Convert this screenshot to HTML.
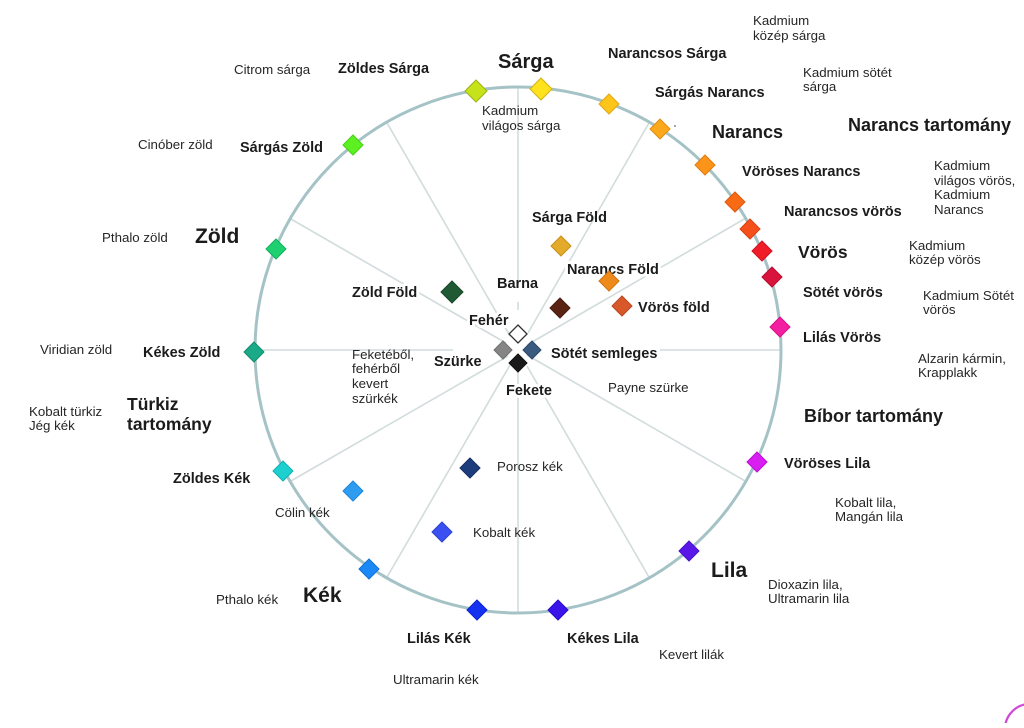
<!DOCTYPE html>
<html>
<head>
<meta charset="utf-8">
<style>
html,body{margin:0;padding:0;background:#fff;}
body{width:1024px;height:723px;overflow:hidden;}
svg text{font-family:"Liberation Sans",Arial,sans-serif;fill:#1b1b1b;}
.b{font-weight:bold;font-size:14.5px;}
.r{font-size:13.3px;fill:#262626;}
.big{font-weight:bold;font-size:21px;}
.rng{font-weight:bold;font-size:18px;}
.h{stroke:#fff;stroke-width:6px;stroke-linejoin:round;paint-order:stroke;}
.sp{stroke:#d2dcdd;stroke-width:1.6;fill:none;}
</style>
</head>
<body>
<svg width="1024" height="723" viewBox="0 0 1024 723" xmlns="http://www.w3.org/2000/svg">
<rect width="1024" height="723" fill="#fff"/>

<!-- spokes -->
<g class="sp">
<line x1="518" y1="88" x2="518" y2="280"/>
<line x1="649.5" y1="122" x2="528" y2="333"/>
<line x1="746" y1="218" x2="527" y2="345"/>
<line x1="660" y1="350" x2="781" y2="350"/>
<line x1="746" y1="481.5" x2="527" y2="355"/>
<line x1="649.5" y1="578" x2="527" y2="366"/>
<line x1="518" y1="613" x2="518" y2="372"/>
<line x1="386.5" y1="578" x2="510" y2="365"/>
<line x1="290" y1="481.5" x2="508" y2="356"/>
<line x1="255" y1="350" x2="453" y2="350"/>
<line x1="290" y1="218.5" x2="506" y2="343"/>
<line x1="386.5" y1="122" x2="510" y2="336"/>
<line x1="518" y1="302" x2="518" y2="310"/>
</g>

<!-- main circle -->
<circle cx="518" cy="350" r="263" fill="none" stroke="#a5c3c6" stroke-width="3"/>

<!-- small dot -->
<circle cx="675" cy="126" r="1" fill="#888"/>

<!-- bottom-right purple arc -->
<circle cx="1030" cy="729" r="25" fill="none" stroke="#cf48d6" stroke-width="2.2"/>

<!-- diamonds on circle -->
<g stroke-width="1">
<polygon points="476,80 487,91 476,102 465,91" fill="#c5e21a" stroke="#9fb212"/>
<polygon points="541,78 552,89 541,100 530,89" fill="#fde21c" stroke="#d4b012"/>
<polygon points="609,94 619,104 609,114 599,104" fill="#fdc41a" stroke="#e0a812"/>
<polygon points="660,119 670,129 660,139 650,129" fill="#fca81c" stroke="#e09012"/>
<polygon points="705,155 715,165 705,175 695,165" fill="#fb9418" stroke="#e07c10"/>
<polygon points="735,192 745,202 735,212 725,202" fill="#f86a14" stroke="#de5810"/>
<polygon points="750,219 760,229 750,239 740,229" fill="#f5501a" stroke="#d84012"/>
<polygon points="762,241 772,251 762,261 752,251" fill="#f01c28" stroke="#d0101c"/>
<polygon points="772,267 782,277 772,287 762,277" fill="#d8143c" stroke="#b80c30"/>
<polygon points="780,317 790,327 780,337 770,327" fill="#f41ea0" stroke="#d81088"/>
<polygon points="757,452 767,462 757,472 747,462" fill="#d81ef0" stroke="#bc10d4"/>
<polygon points="689,541 699,551 689,561 679,551" fill="#5a18e8" stroke="#4810cc"/>
<polygon points="558,600 568,610 558,620 548,610" fill="#3a14e8" stroke="#2c0ccc"/>
<polygon points="477,600 487,610 477,620 467,610" fill="#1430f0" stroke="#0c22d0"/>
<polygon points="369,559 379,569 369,579 359,569" fill="#1a88f5" stroke="#1070d8"/>
<polygon points="283,461 293,471 283,481 273,471" fill="#1ecfd0" stroke="#12b0b4"/>
<polygon points="254,342 264,352 254,362 244,352" fill="#1aaa88" stroke="#108c70"/>
<polygon points="276,239 286,249 276,259 266,249" fill="#1ed070" stroke="#12b05c"/>
<polygon points="353,135 363,145 353,155 343,145" fill="#5cf022" stroke="#46d014"/>
</g>

<!-- white box behind Sötét semleges -->
<rect x="548" y="343" width="112" height="19" fill="#fff"/>

<!-- big labels -->
<text class="big" x="498" y="68" style="font-size:20px">Sárga</text>
<text class="big" x="195" y="243">Zöld</text>
<text class="big" x="303" y="602">Kék</text>
<text class="big" x="711" y="577">Lila</text>
<text class="big" x="712" y="138" style="font-size:18px">Narancs</text>
<text class="big" x="798" y="258" style="font-size:17.5px">Vörös</text>

<!-- range labels -->
<text class="rng" x="848" y="131">Narancs tartomány</text>
<text class="rng" x="804" y="422">Bíbor tartomány</text>
<text class="rng" x="127" y="410" style="font-size:17.5px">Türkiz</text>
<text class="rng" x="127" y="430" style="font-size:17.5px">tartomány</text>

<!-- bold labels -->
<text class="b" x="338" y="73">Zöldes Sárga</text>
<text class="b" x="240" y="152">Sárgás Zöld</text>
<text class="b" x="608" y="58">Narancsos Sárga</text>
<text class="b" x="655" y="97">Sárgás Narancs</text>
<text class="b" x="742" y="176">Vöröses Narancs</text>
<text class="b" x="784" y="216">Narancsos vörös</text>
<text class="b" x="803" y="297">Sötét vörös</text>
<text class="b" x="803" y="342">Lilás Vörös</text>
<text class="b" x="784" y="468">Vöröses Lila</text>
<text class="b" x="567" y="643">Kékes Lila</text>
<text class="b" x="407" y="643">Lilás Kék</text>
<text class="b" x="173" y="483">Zöldes Kék</text>
<text class="b" x="143" y="357">Kékes Zöld</text>
<text class="b" x="532" y="222">Sárga Föld</text>
<text class="b h" x="567" y="274">Narancs Föld</text>
<text class="b" x="497" y="288">Barna</text>
<text class="b h" x="352" y="297">Zöld Föld</text>
<text class="b" x="638" y="312">Vörös föld</text>
<text class="b h" x="469" y="325">Fehér</text>
<text class="b" x="551" y="358">Sötét semleges</text>
<text class="b" x="434" y="366">Szürke</text>
<text class="b h" x="506" y="395">Fekete</text>

<!-- regular labels -->
<text class="r" x="234" y="74">Citrom sárga</text>
<text class="r" x="482" y="115">Kadmium</text>
<text class="r" x="482" y="130">világos sárga</text>
<text class="r" x="753" y="25">Kadmium</text>
<text class="r" x="753" y="40">közép sárga</text>
<text class="r" x="803" y="77">Kadmium sötét</text>
<text class="r" x="803" y="91">sárga</text>
<text class="r" x="934" y="170">Kadmium</text>
<text class="r" x="934" y="185">világos vörös,</text>
<text class="r" x="934" y="199">Kadmium</text>
<text class="r" x="934" y="214">Narancs</text>
<text class="r" x="909" y="250">Kadmium</text>
<text class="r" x="909" y="264">közép vörös</text>
<text class="r" x="923" y="300">Kadmium Sötét</text>
<text class="r" x="923" y="314">vörös</text>
<text class="r" x="918" y="363">Alzarin kármin,</text>
<text class="r" x="918" y="377">Krapplakk</text>
<text class="r" x="835" y="507">Kobalt lila,</text>
<text class="r" x="835" y="521">Mangán lila</text>
<text class="r" x="768" y="589">Dioxazin lila,</text>
<text class="r" x="768" y="603">Ultramarin lila</text>
<text class="r" x="659" y="659">Kevert lilák</text>
<text class="r" x="393" y="684">Ultramarin kék</text>
<text class="r" x="216" y="604">Pthalo kék</text>
<text class="r" x="275" y="517">Cölin kék</text>
<text class="r" x="497" y="471">Porosz kék</text>
<text class="r" x="473" y="537">Kobalt kék</text>
<text class="r" x="608" y="392">Payne szürke</text>
<text class="r" x="352" y="359">Feketéből,</text>
<text class="r" x="352" y="373">fehérből</text>
<text class="r" x="352" y="388">kevert</text>
<text class="r" x="352" y="403">szürkék</text>
<text class="r" x="29" y="416">Kobalt türkiz</text>
<text class="r" x="29" y="430">Jég kék</text>
<text class="r" x="40" y="354">Viridian zöld</text>
<text class="r" x="102" y="242">Pthalo zöld</text>
<text class="r" x="138" y="149">Cinóber zöld</text>

<!-- inner diamonds (drawn on top of labels) -->
<g stroke-width="1">
<polygon points="561,236 571,246 561,256 551,246" fill="#e4aa2a" stroke="#c89018"/>
<polygon points="609,271 619,281 609,291 599,281" fill="#ee8a1c" stroke="#d07410"/>
<polygon points="622,296 632,306 622,316 612,306" fill="#d8582a" stroke="#bc4620"/>
<polygon points="560,298 570,308 560,318 550,308" fill="#5a2414" stroke="#481a0c"/>
<polygon points="452,281 463,292 452,303 441,292" fill="#1f5a34" stroke="#164828"/>
<polygon points="518,325 527,334 518,343 509,334" fill="#fff" stroke="#333" stroke-width="1.3"/>
<polygon points="503,341 512,350 503,359 494,350" fill="#858585" stroke="#707070"/>
<polygon points="532,341 541,350 532,359 523,350" fill="#3a5a80" stroke="#2c4868"/>
<polygon points="518,354 527,363 518,372 509,363" fill="#1a1a1a" stroke="#111"/>
<polygon points="353,481 363,491 353,501 343,491" fill="#2e9cf0" stroke="#2086d8"/>
<polygon points="470,458 480,468 470,478 460,468" fill="#1c3c7c" stroke="#142e66"/>
<polygon points="442,522 452,532 442,542 432,532" fill="#3a50f0" stroke="#2c40d4"/>
</g>
</svg>
</body>
</html>
